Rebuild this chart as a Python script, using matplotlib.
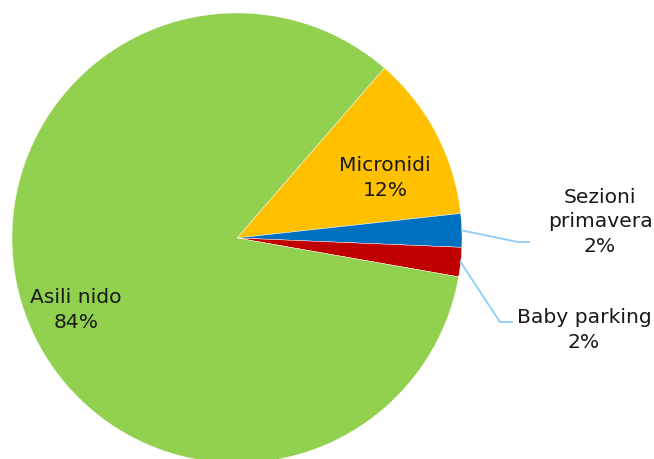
import numpy as np
import matplotlib
matplotlib.use("Agg")
import matplotlib.pyplot as plt

# share of places by service type (clockwise from the top-right)
labels = ["Micronidi", "Sezioni\nprimavera", "Baby parking", "Asili nido"]
values = [11.9, 2.4, 2.1, 83.6]
colors = ["#FFC000", "#0070C0", "#C00000", "#92D050"]

W, H = 654, 460
fig = plt.figure(figsize=(W / 100, H / 100), dpi=100)
ax = fig.add_axes([0, 0, 1, 1])

cx, cy, r = 237, H - 239, 225
start = 49.1
wedges, _ = ax.pie(values, colors=colors, startangle=start, counterclock=False,
                   center=(cx, cy), radius=r,
                   wedgeprops=dict(edgecolor="white", linewidth=0.3))
ax.set_xlim(0, W)
ax.set_ylim(0, H)
ax.set_aspect("equal")
ax.axis("off")

pct = [f"{round(v)}%" for v in values]
font = dict(fontsize=14.6, color="#1a1a1a", ha="center", va="center",
            linespacing=1.35, family="DejaVu Sans")

# label positions (pixel coords from top-left)
label_pos = [(385, 178), (600, 222), (584, 330), (76, 310)]
for lab, p, (x, y) in zip(labels, pct, label_pos):
    ax.text(x, H - y, f"{lab}\n{p}", **font)

# leader lines for the two small slices
line_color = "#8ECDF8"
elbows = {1: [(518, 243), (529, 243)], 2: [(500, 323), (512, 323)]}
for i, pts in elbows.items():
    w = wedges[i]
    mid = np.deg2rad((w.theta1 + w.theta2) / 2)
    x0 = cx + r * np.cos(mid)
    y0 = cy + r * np.sin(mid)
    xs = [x0] + [p[0] for p in pts]
    ys = [y0] + [H - p[1] for p in pts]
    ax.plot(xs, ys, color=line_color, linewidth=1.3)

fig.savefig("out.png", dpi=100)
